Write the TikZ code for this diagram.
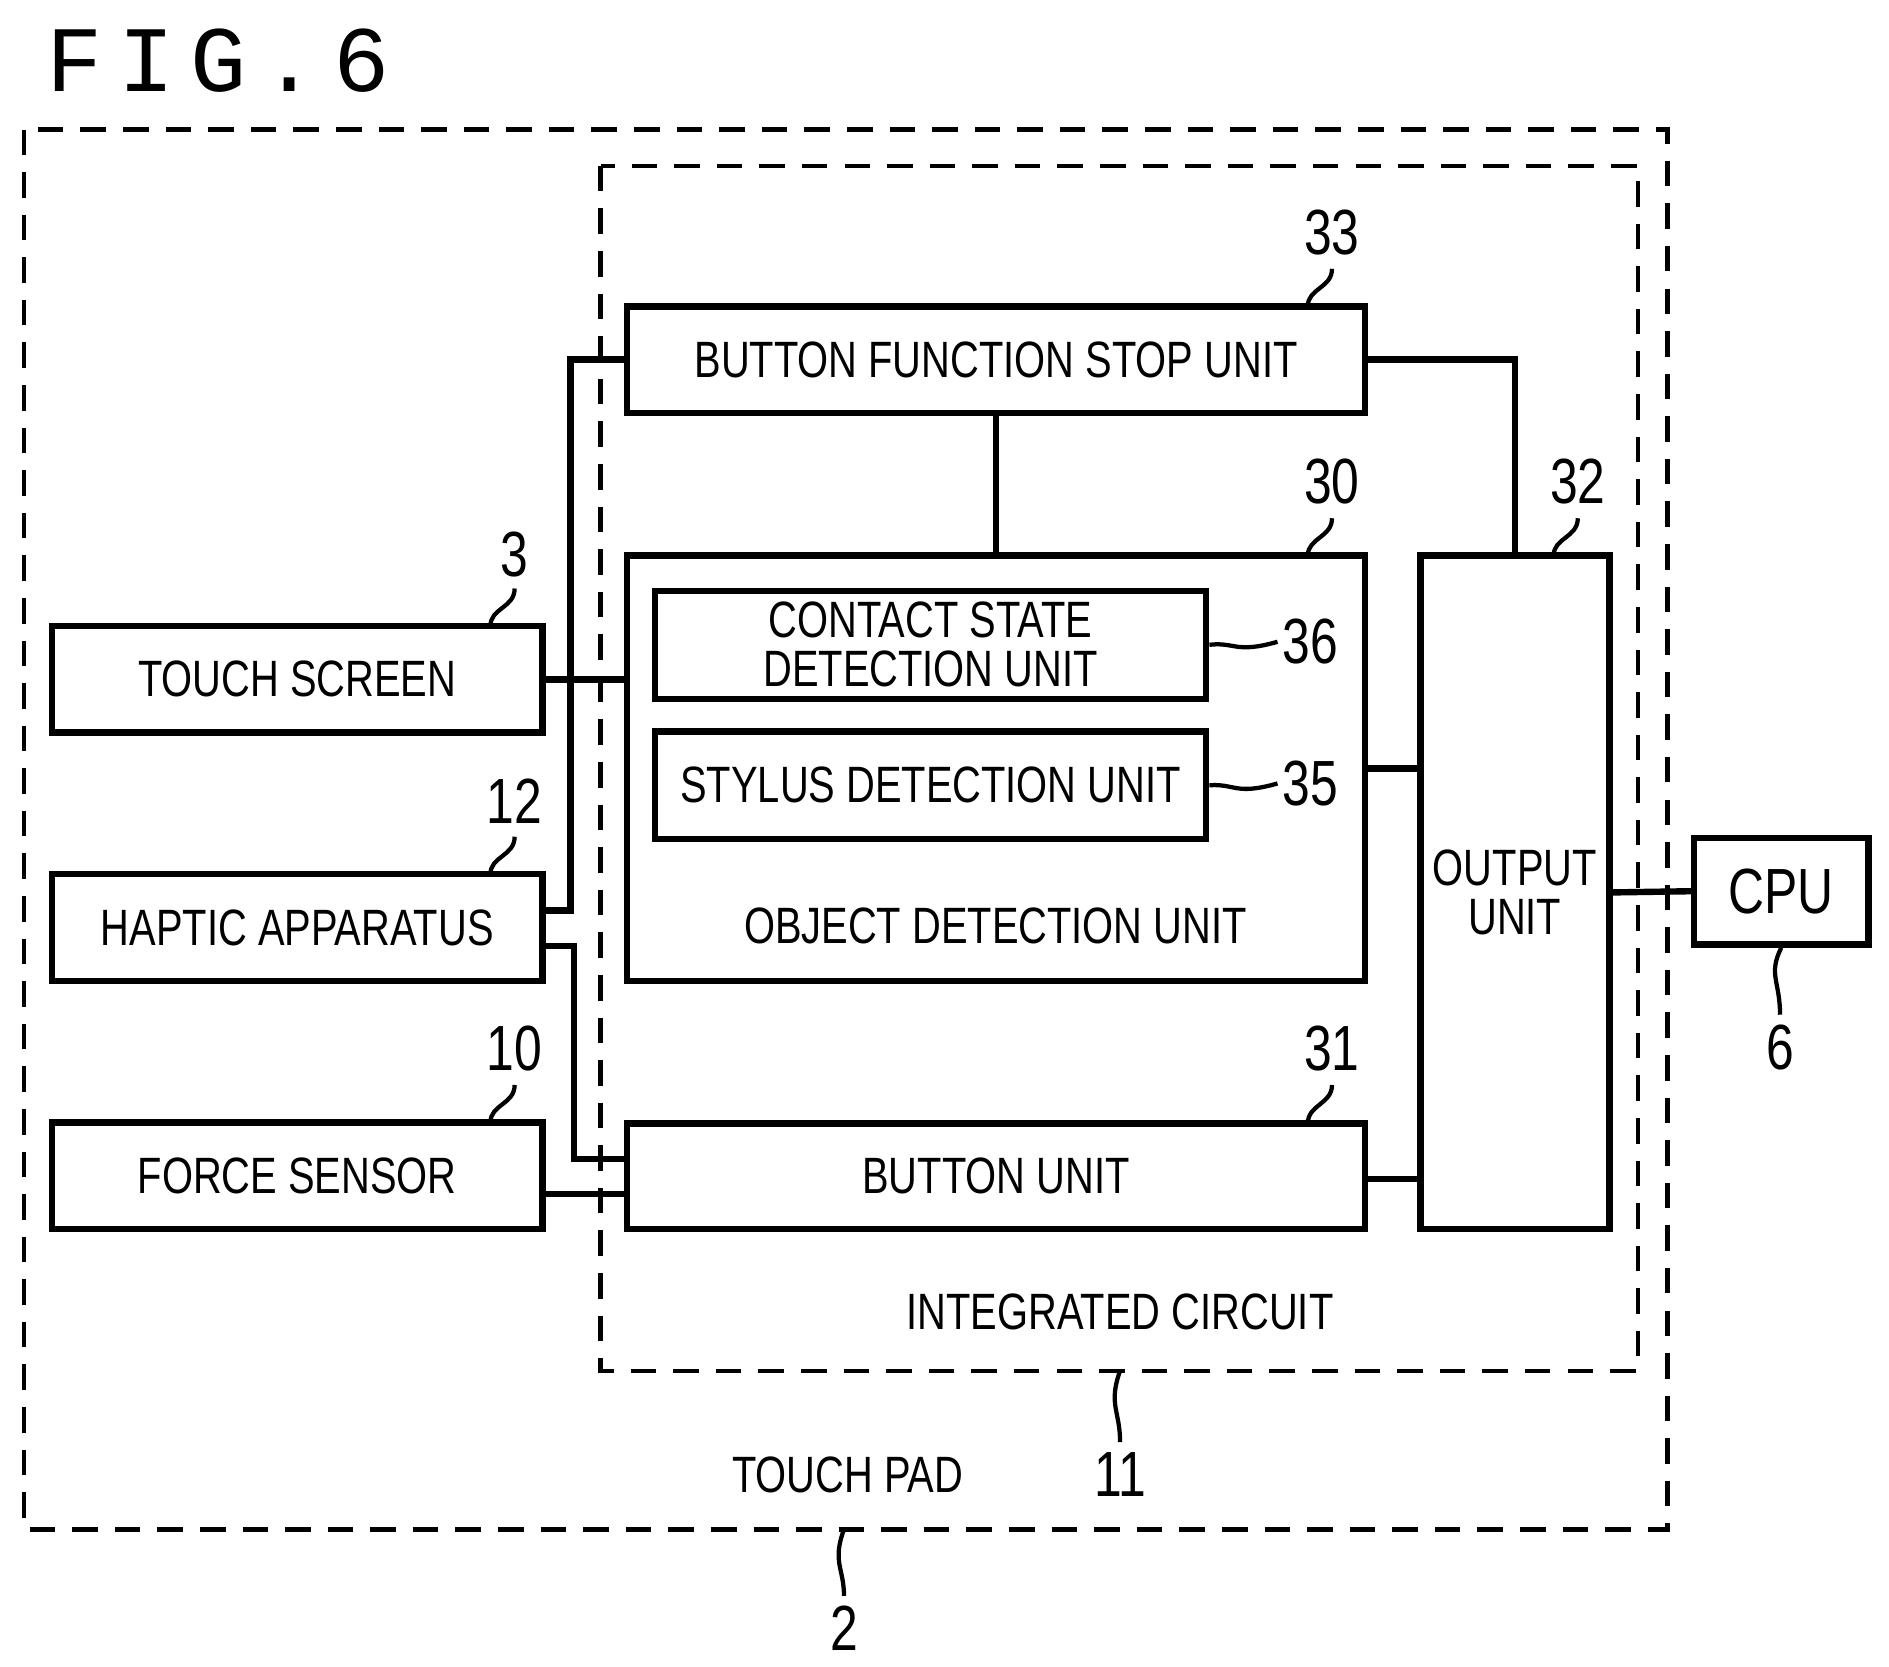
\documentclass[tikz,border=0pt]{standalone}
\usepackage{fontspec}
\setmainfont{Liberation Sans}[FakeStretch=0.78]
\newfontfamily\figfont{Liberation Mono}
\usetikzlibrary{positioning}
\tikzset{
  blk/.style={draw, line width=1.5pt, inner sep=0pt, font=\fontsize{12}{12}\selectfont},
  grp/.style={draw, line width=1pt, dash pattern=on 6pt off 4pt},
  wire/.style={line width=1.5pt},
  lead/.style={line width=1pt},
  num/.style={font=\fontsize{15}{15}\selectfont},
}
\begin{document}
\begin{tikzpicture}[x=0.01cm, y=-0.01cm]
\useasboundingbox (0,0) rectangle (1560,1376);

% Title
\node[anchor=west, font=\figfont\fontsize{22}{22}\selectfont] (title) at (26,50) {F\,I\,G\,.\,6};

% Groups
\draw[grp] (20,107) rectangle (1377,1263);
\draw[grp] (496,137) rectangle (1353,1132);
\node[font=\fontsize{12}{12}\selectfont] (icl) at (925,1083) {INTEGRATED CIRCUIT};
\node[font=\fontsize{12}{12}\selectfont] (tpl) at (700,1218) {TOUCH PAD};

% Blocks
\node[blk, minimum width=6.09cm, minimum height=0.88cm] (stop) at (822.5,297) {BUTTON FUNCTION STOP UNIT};
\node[blk, minimum width=6.09cm, minimum height=3.51cm] (obj) at (822.5,634.5) {};
\node[font=\fontsize{12}{12}\selectfont] (objl) at (822,765) {OBJECT DETECTION UNIT};
\node[blk, minimum width=4.55cm, minimum height=0.89cm, align=center, font=\fontsize{12}{11.5}\selectfont] (contact) at (768.5,532.5) {CONTACT STATE\\DETECTION UNIT};
\node[blk, minimum width=4.55cm, minimum height=0.89cm] (stylus) at (768.5,648.5) {STYLUS DETECTION UNIT};
\node[blk, minimum width=6.09cm, minimum height=0.87cm] (button) at (822.5,971.5) {BUTTON UNIT};
\node[blk, minimum width=1.56cm, minimum height=5.56cm, align=center, font=\fontsize{12}{11.5}\selectfont] (output) at (1251,737) {OUTPUT\\UNIT};
\node[blk, minimum width=1.44cm, minimum height=0.88cm, font=\fontsize{15}{15}\selectfont] (cpu) at (1471,736) {CPU};
\node[blk, minimum width=4.05cm, minimum height=0.88cm] (touch) at (245.5,561) {TOUCH SCREEN};
\node[blk, minimum width=4.05cm, minimum height=0.88cm] (haptic) at (245.5,766) {HAPTIC APPARATUS};
\node[blk, minimum width=4.05cm, minimum height=0.88cm] (force) at (245.5,971) {FORCE SENSOR};

% Wires
\draw[wire] (stop.west) -- ++(-44,0) coordinate (bt) |- ([yshift=0.14cm]haptic.east);
\draw[wire] (touch.east) -- (touch.east -| obj.west);
\draw[wire] ([yshift=-0.15cm]haptic.east) -| (474,957) -- (474,957 -| button.west);
\draw[wire] ([yshift=-0.15cm]force.east) -- ([yshift=-0.15cm]force.east -| button.west);
\draw[wire] (stop.south) -- (obj.north -| stop.south);
\draw[wire] (stop.east) -| (output.north);
\draw[wire] (obj.east) -- (obj.east -| output.west);
\draw[wire] ([yshift=-0.02cm]button.east) -- ([yshift=-0.02cm]button.east -| output.west);
\draw[wire] (output.east) -- (cpu.west);

% Reference numerals
\node[num] (n33) at (1100,192) {33};
\draw[lead] (1080,253) .. controls (1080,238) and (1100,238) .. (1100,222);
\node[num] (n30) at (1100,398) {30};
\draw[lead] (1080,459) .. controls (1080,444) and (1100,444) .. (1100,428);
\node[num] (n32) at (1303,398) {32};
\draw[lead] (1283,459) .. controls (1283,444) and (1303,444) .. (1303,428);
\node[num] (n31) at (1100,866) {31};
\draw[lead] (1080,928) .. controls (1080,912) and (1100,912) .. (1100,896);
\node[num] (n3) at (425,458) {3};
\draw[lead] (405,517) .. controls (405,502) and (425,502) .. (425,486);
\node[num] (n12) at (425,662) {12};
\draw[lead] (405,722) .. controls (405,707) and (425,707) .. (425,691);
\node[num] (n10) at (425,866) {10};
\draw[lead] (405,927) .. controls (405,912) and (425,912) .. (425,896);
\node[num] (n36) at (1082,530) {36};
\draw[lead] (contact.east) .. controls (1020,530) and (1020,540) .. (1055,530);
\node[num] (n35) at (1082,647) {35};
\draw[lead] (stylus.east) .. controls (1020,647) and (1020,657) .. (1055,647);
\node[num] (n6) at (1470,865) {6};
\draw[lead] (cpu.south) .. controls (1460,805) and (1470,810) .. (1470,838);
\node[num] (n11) at (925,1218) {11};
\draw[lead] (925,1132) .. controls (915,1160) and (925,1165) .. (925,1191);
\node[num] (n2) at (697,1345) {2};
\draw[lead] (697,1263) .. controls (687,1290) and (697,1295) .. (697,1318);
\end{tikzpicture}
\end{document}
